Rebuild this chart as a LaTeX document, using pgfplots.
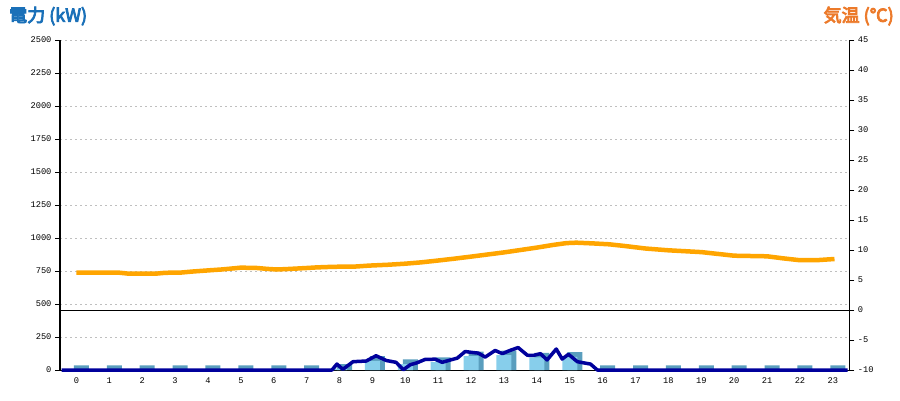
\documentclass[border=0pt]{standalone}
\usepackage{pgfplots}
\pgfplotsset{compat=1.18}
\usepackage{pgfplotstable}
\usepackage{fontspec}
\setmainfont{Liberation Sans}
\newfontfamily\cjk[FakeBold=4.5]{Noto Sans CJK JP}
\newfontfamily\tickfont{Liberation Mono}
\definecolor{powblue}{HTML}{00009C}
\definecolor{tempor}{HTML}{FFA500}
\definecolor{barfront}{HTML}{87CEEB}
\definecolor{barside}{HTML}{5A9EBE}
\definecolor{titleblue}{HTML}{1A70B8}
\definecolor{titleorange}{HTML}{EC7A2A}
\definecolor{gridgray}{HTML}{BFBFBF}

\pgfplotstableread{
h v
0 0
1 0
2 0
3 0
4 0
5 0
6 0
7 0
8 10
9 70
10 45
11 60
12 105
13 112
14 95
15 100
16 0
17 0
18 0
19 0
20 0
21 0
22 0
23 0
}\bars

\pgfplotstableread{
h p
-0.45 0
7.77 0
7.92 45
8.10 5
8.41 63
8.81 68
9.11 108
9.42 72
9.72 58
9.94 2
10.15 40
10.36 55
10.60 80
10.91 82
11.12 58
11.37 76
11.58 90
11.82 140
12.06 132
12.22 128
12.43 98
12.73 148
12.95 124
13.18 148
13.43 170
13.71 112
13.89 110
14.11 124
14.31 76
14.59 159
14.77 83
14.96 119
15.23 63
15.47 52
15.63 45
15.84 0
23.45 0
}\power

\pgfplotstableread{
h t
0 6.22
0.5 6.22
1.3 6.22
1.6 6.05
2.4 6.05
2.7 6.2
3.2 6.25
3.5 6.4
4.0 6.6
4.4 6.75
4.7 6.9
5.0 7.06
5.5 7.0
5.8 6.85
6.1 6.75
6.5 6.85
7.0 7.0
7.3 7.1
7.8 7.2
8.5 7.25
8.9 7.4
9.5 7.55
10.0 7.72
10.5 7.95
11.0 8.25
11.5 8.56
12.0 8.9
12.5 9.25
13.0 9.6
13.5 10.0
14.0 10.4
14.5 10.85
14.9 11.15
15.2 11.22
15.7 11.1
16.2 10.95
16.7 10.65
17.3 10.25
18.0 9.95
19.0 9.65
20.0 9.05
21.0 8.95
21.5 8.6
22.0 8.3
22.5 8.3
23.05 8.5
}\temp

\begin{document}
\begin{tikzpicture}
\path[use as bounding box] (0,0) rectangle (900pt,400pt);
\begin{axis}[
  at={(60pt,30pt)}, anchor=south west,
  scale only axis, width=789.3pt, height=330pt,
  xmin=-0.5, xmax=23.5, ymin=0, ymax=2500,
  xtick={0,...,23}, ytick={0,250,...,2500},
  axis x line*=bottom, axis y line*=left,
  axis line style={-, black, line width=1pt},
  tick align=outside, major tick length=5pt,
  ytick style={black, line width=1pt},
  xtick style={draw=none},
  ymajorgrids,
  major grid style={gridgray, line width=1pt, dash pattern=on 2pt off 3pt},
  /pgf/number format/1000 sep={},
  /pgf/number format/assume math mode=true,
  ticklabel style={font=\tickfont\fontsize{8.7}{10}\selectfont},
  xticklabel style={yshift=1pt},
  clip=false,
]
\addplot[ybar, bar width=15pt, bar shift=5pt, fill=barside, draw=none]
  table[x=h, y expr=\thisrow{v}+35] {\bars};
\addplot[ybar, bar width=15pt, bar shift=0pt, fill=barfront, draw=none]
  table[x=h, y=v] {\bars};
\addplot[powblue, line width=3.5pt, line join=round, no marks] table[x=h, y=p] {\power};
\end{axis}
\begin{axis}[
  at={(60pt,30pt)}, anchor=south west,
  scale only axis, width=789.3pt, height=330pt,
  xmin=-0.5, xmax=23.5, ymin=-10, ymax=45,
  ytick={-10,-5,...,45},
  axis x line=none, axis y line*=right,
  axis line style={-, black, line width=1pt},
  tick align=outside, major tick length=5pt,
  ytick style={black, line width=1pt},
  /pgf/number format/assume math mode=true,
  ticklabel style={font=\tickfont\fontsize{8.7}{10}\selectfont},
]
\addplot[black, line width=1pt, no marks] coordinates {(-0.5,0) (23.5,0)};
\addplot[tempor, line width=4.5pt, line join=round, no marks] table[x=h, y=t] {\temp};
\end{axis}
\node[anchor=west, text=titleblue, inner sep=0pt] at (9pt,384pt) {\cjk\fontsize{18}{18}\selectfont 電力 (kW)};
\node[anchor=east, text=titleorange, inner sep=0pt] at (894pt,384pt) {\cjk\fontsize{18}{18}\selectfont 気温 (℃)};
\end{tikzpicture}
\end{document}
